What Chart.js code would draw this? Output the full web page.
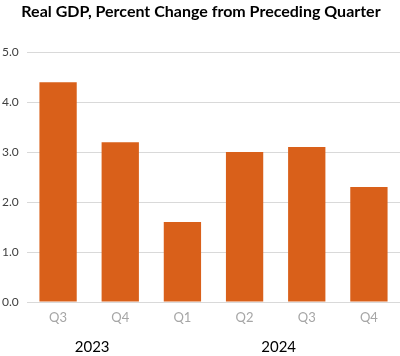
<!DOCTYPE html>
<html>
<head>
<meta charset="utf-8">
<script src="https://cdn.jsdelivr.net/npm/chart.js@4"></script>
<style>
html,body{margin:0;padding:0;background:#fff;}
#wrap{width:400px;height:356px;position:relative;}
</style>
</head>
<body>
<div id="wrap"><canvas id="c" width="400" height="356"></canvas></div>
<script>
const quarters = ['Q3', 'Q4', 'Q1', 'Q2', 'Q3', 'Q4'];
const years = ['2023', '2024'];
const yearOfQuarter = [0, 0, 1, 1, 1, 1];
const gdpChange = [4.4, 3.2, 1.6, 3.0, 3.1, 2.3];
const yTicks = [0, 1, 2, 3, 4, 5];
const titleText = 'Real GDP, Percent Change from Preceding Quarter';

const FONT = 'Lato, "Open Sans", sans-serif';

const yearPlugin = {
  id: 'yearLabels',
  afterDraw(chart) {
    const xs = chart.scales.x;
    const ctx = chart.ctx;
    ctx.save();
    ctx.font = '15px ' + FONT;
    ctx.fillStyle = '#000000';
    ctx.textAlign = 'center';
    ctx.textBaseline = 'middle';
    years.forEach((yr, yi) => {
      const idx = yearOfQuarter.map((g, i) => g === yi ? i : -1).filter(i => i >= 0);
      const px = idx.map(i => xs.getPixelForValue(i));
      const cx = px.reduce((a, b) => a + b, 0) / px.length + 3;
      ctx.fillText(yr, cx, 347);
    });
    ctx.restore();
  }
};

new Chart(document.getElementById('c'), {
  type: 'bar',
  data: {
    labels: quarters,
    datasets: [{
      data: gdpChange,
      backgroundColor: '#D9601A',
      borderWidth: 0,
      categoryPercentage: 1.0,
      barPercentage: 0.6
    }]
  },
  options: {
    responsive: false,
    animation: false,
    layout: { padding: { left: 2, right: 0, top: 0, bottom: 0 } },
    plugins: {
      legend: { display: false },
      tooltip: { enabled: false },
      title: {
        display: true,
        text: titleText,
        color: '#000000',
        font: { family: FONT, size: 16, weight: 'bold' },
        padding: { top: 2, bottom: 31 }
      }
    },
    scales: {
      x: {
        grid: { display: false, drawTicks: false },
        border: { display: false },
        ticks: {
          color: '#A6A6A6',
          font: { family: FONT, size: 13 },
          padding: 8,
          maxRotation: 0
        },
        afterFit(s) { s.height = 54; }
      },
      y: {
        min: 0,
        max: 5,
        afterBuildTicks(s) { s.ticks = yTicks.map(v => ({ value: v })); },
        grid: { color: '#D9D9D9', lineWidth: 1, drawTicks: false },
        border: { display: false },
        ticks: {
          color: '#404040',
          font: { family: FONT, size: 12 },
          crossAlign: 'far',
          padding: 0,
          callback: v => Number(v).toFixed(1)
        },
        afterFit(s) { s.width = 25; }
      }
    }
  },
  plugins: [yearPlugin]
});
</script>
</body>
</html>
